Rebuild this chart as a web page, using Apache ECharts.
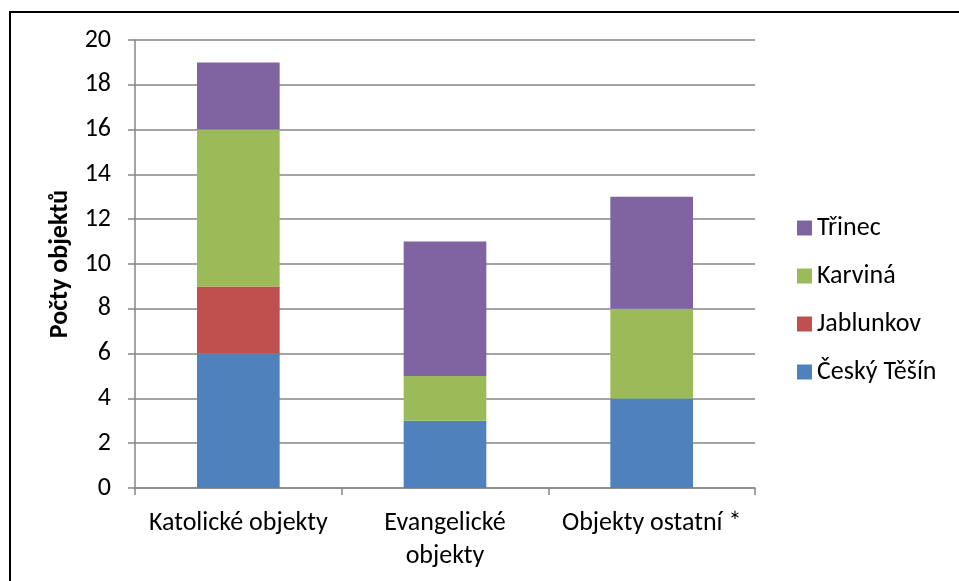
<!DOCTYPE html>
<html><head><meta charset="utf-8">
<script src="https://cdn.jsdelivr.net/npm/echarts@6/dist/echarts.min.js"></script>
<style>html,body{margin:0;padding:0;background:#fff}#c{width:959px;height:581px}</style>
</head><body><div id="c"></div>
<script>
const categories = ['Katolické objekty', 'Evangelické\nobjekty', 'Objekty ostatní *'];
const ceskyTesin = [6, 3, 4];
const jablunkov = [3, 0, 0];
const karvina = [7, 2, 4];
const trinec = [3, 6, 5];
const yTicks = [0, 2, 4, 6, 8, 10, 12, 14, 16, 18, 20];

const FONT = 'Carlito, Lato, sans-serif';
const FS = 26;
const chart = echarts.init(document.getElementById('c'));
function s(name, data, color) {
  return { name, type: 'bar', stack: 'a', data, barWidth: '40%', itemStyle: { color }, emphasis: { disabled: true } };
}
chart.setOption({
  animation: false,
  graphic: [{ type: 'rect', shape: { x: 10, y: 12, width: 1000, height: 700 }, style: { fill: 'none', stroke: '#000', lineWidth: 2 }, silent: true }],
  grid: { left: 135, right: 204, top: 40, bottom: 93, containLabel: false },
  legend: {
    orient: 'vertical', left: 792, top: 210, itemGap: 22, itemWidth: 15, itemHeight: 15,
    icon: 'rect', data: ['Třinec', 'Karviná', 'Jablunkov', 'Český Těšín'],
    textStyle: { fontFamily: FONT, fontSize: FS, lineHeight: 26, color: '#000' }
  },
  xAxis: {
    type: 'category', data: categories,
    axisLine: { lineStyle: { color: '#868686', width: 1.5 } },
    axisTick: { show: true, length: 7, alignWithLabel: false, lineStyle: { color: '#868686', width: 1.5 } },
    axisLabel: { fontFamily: FONT, fontSize: FS, color: '#000', margin: 19, lineHeight: 33, interval: 0 }
  },
  yAxis: {
    type: 'value', min: 0, max: 20, interval: 2,
    name: 'Počty objektů', nameLocation: 'middle', nameGap: 62, nameRotate: 90,
    nameTextStyle: { fontFamily: FONT, fontSize: FS, fontWeight: 'bold', color: '#000' },
    axisLine: { show: true, lineStyle: { color: '#868686', width: 1.5 } },
    axisTick: { show: true, length: 7, lineStyle: { color: '#868686', width: 1.5 } },
    splitLine: { lineStyle: { color: '#868686', width: 1.5 } },
    axisLabel: { fontFamily: FONT, fontSize: FS, color: '#000', margin: 24,
      formatter: v => yTicks.includes(v) ? String(v) : '' }
  },
  series: [
    s('Český Těšín', ceskyTesin, '#4F81BD'),
    s('Jablunkov', jablunkov, '#C0504D'),
    s('Karviná', karvina, '#9BBB59'),
    s('Třinec', trinec, '#8064A2')
  ]
});
</script></body></html>
